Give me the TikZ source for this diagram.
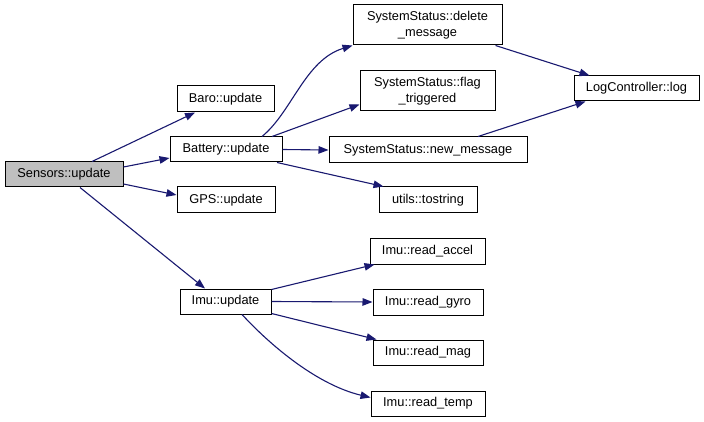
\documentclass[tikz,border=0pt]{standalone}
\usepackage{fontspec}
\setmainfont{Liberation Sans}
\usetikzlibrary{arrows.meta}
\definecolor{edgec}{HTML}{191970}
\definecolor{rootfill}{HTML}{BFBFBF}
\begin{document}
\begin{tikzpicture}[x=1pt,y=-1pt,
  box/.style={draw=black,line width=1pt,fill=white,inner sep=0pt,align=center,
    font=\fontsize{12.8}{16}\selectfont},
  call/.style={draw=edgec,line width=1.1pt,-{Triangle[length=10pt,width=7.5pt]},fill=none},
]
\useasboundingbox (0,0) rectangle (704,422);
\fill[white] (0,0) rectangle (704,422);
\node[box,fill=rootfill,minimum width=118pt,minimum height=25pt] (sens) at (64,174.5) {Sensors::update};
\node[box,minimum width=97pt,minimum height=26pt] (baro) at (225.5,99) {Baro::update};
\node[box,minimum width=112pt,minimum height=25pt] (bat) at (226,149.5) {Battery::update};
\node[box,minimum width=98pt,minimum height=26pt] (gps) at (226,200) {GPS::update};
\node[box,minimum width=149pt,minimum height=40pt] (del) at (427.5,25) {SystemStatus::delete\\\_message};
\node[box,minimum width=135pt,minimum height=40pt] (flag) at (427.5,91) {SystemStatus::flag\\\_triggered};
\node[box,minimum width=198pt,minimum height=26pt] (newm) at (428,150) {SystemStatus::new\_message};
\node[box,minimum width=98pt,minimum height=26pt] (tostr) at (428,200) {utils::tostring};
\node[box,minimum width=125pt,minimum height=25pt] (log) at (636.5,88.5) {LogController::log};
\node[box,minimum width=91pt,minimum height=25pt] (imu) at (225.5,301.5) {Imu::update};
\node[box,minimum width=115pt,minimum height=26pt] (accel) at (427.5,251) {Imu::read\_accel};
\node[box,minimum width=110pt,minimum height=26pt] (gyro) at (428,302) {Imu::read\_gyro};
\node[box,minimum width=110pt,minimum height=25pt] (mag) at (428,352.5) {Imu::read\_mag};
\node[box,minimum width=114pt,minimum height=25pt] (temp) at (428,403.5) {Imu::read\_temp};

\draw[call] ([xshift=28pt]sens.north) -- ([xshift=-30.5pt]baro.south);
\draw[call] ([yshift=7.5pt]sens.east) -- ([yshift=-8.5pt]bat.west);
\draw[call] ([yshift=-9.5pt]sens.east) -- ([yshift=5pt]gps.west);
\draw[call] ([xshift=16pt]sens.south) -- ([xshift=-20.5pt]imu.north);

\draw[call] ([xshift=36pt]bat.north) .. controls (292,112) and (305,60) .. (del.south west);
\draw[call] ([xshift=46pt]bat.north) -- ([yshift=7pt]flag.south west);
\draw[call] (bat.east) -- (newm.west);
\draw[call] ([xshift=51pt]bat.south) -- ([xshift=5pt]tostr.north west);

\draw[call] ([xshift=-7pt]del.south east) -- ([xshift=16pt]log.north west);
\draw[call] ([xshift=50pt]newm.north) -- ([xshift=12pt]log.south west);

\draw[call] ([yshift=-1pt]imu.north east) -- ([xshift=5pt]accel.south west);
\draw[call] (imu.east) -- (gyro.west);
\draw[call] ([yshift=1pt]imu.south east) -- ([xshift=4pt]mag.north west);
\draw[call] ([xshift=16.5pt]imu.south) .. controls (272,347) and (318,385) .. ([yshift=6pt]temp.west);
\end{tikzpicture}
\end{document}
